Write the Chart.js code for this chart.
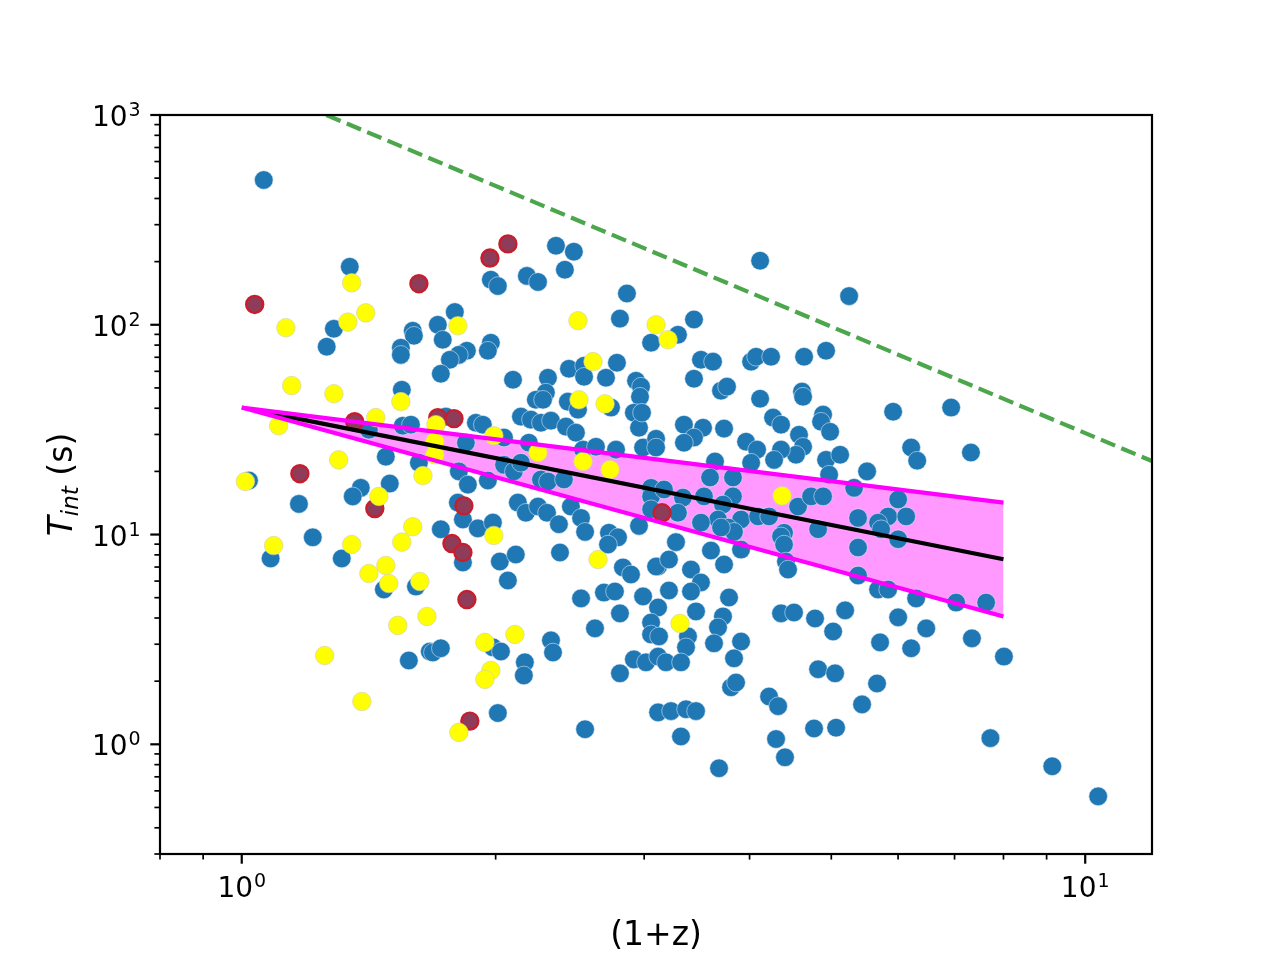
<!DOCTYPE html>
<html>
<head>
<meta charset="utf-8">
<script src="https://cdn.jsdelivr.net/npm/chart.js@4.4.1/dist/chart.umd.min.js"></script>
<style>
  html, body { margin: 0; padding: 0; background: #fff; }
  #wrap { width: 1280px; height: 960px; position: relative; }
</style>
</head>
<body>
<div id="wrap"><canvas id="myChart"></canvas></div>
<script>
// (1+z), T_int (s)
const bluePoints = [
  [1.062,490],[1.343,189],[1.286,95.7],[1.261,78.6],[1.595,93.6],[1.600,88.6],[1.544,77.7],[1.544,71.9],[1.548,49.0],[1.415,31.6],
  [1.552,33.0],[1.482,23.5],[1.622,22.0],[1.02,18.1],[1.498,17.5],[1.384,16.7],[1.354,15.2],[1.169,14.0],[1.214,9.7],[1.082,7.69],
  [1.314,7.69],[1.474,5.47],[1.609,5.65],[1.671,2.77],[1.578,2.51],
  [2.358,238],[2.476,223],[2.416,183],[1.974,164],[2.012,153],[2.178,171],[2.245,160],[2.862,141],[2.808,107],[3.057,82.1],
  [1.789,115],[1.708,100],[1.731,84.8],[1.974,82.1],[1.958,75.2],[1.849,75.2],[1.809,71.9],[1.765,68.1],[1.722,58.4],[2.443,61.7],
  [2.546,63.8],[2.546,56.5],[2.703,55.9],[2.785,65.9],[2.097,54.7],[2.307,55.9],[2.934,54.1],[2.974,50.7],[2.966,45.4],[2.294,47.5],
  [2.232,43.9],[2.276,43.9],[2.436,43.0],[2.504,39.4],[2.740,40.3],[2.917,38.1],[2.143,36.5],[2.202,35.3],[2.263,34.1],[2.326,34.9],
  [2.958,32.3],[2.423,32.7],[2.490,30.6],[1.746,36.5],[1.895,34.1],[1.931,33.4],[2.046,29.0],[1.587,33.4],[1.844,27.4],[2.190,27.4],
  [2.539,25.4],[2.630,26.2],[2.778,25.4],[2.991,26.0],[3.099,28.6],[2.046,21.5],[2.102,20.0],[1.809,20.0],[1.854,17.3],[1.958,18.1],
  [2.263,18.3],[2.307,17.9],[2.410,18.3],[2.143,22.0],[3.057,16.7],
  [1.804,14.2],[1.829,11.8],[1.905,10.7],[1.985,11.4],[1.722,10.6],[1.829,7.36],[2.023,7.44],[2.113,8.03],[2.068,6.04],[2.125,14.2],
  [2.172,12.7],[2.245,13.6],[2.301,12.7],[2.377,11.2],[2.456,13.6],[2.525,12.0],[2.553,10.3],[2.384,8.21],[2.725,10.2],[2.793,9.7],
  [2.718,8.96],[2.958,11.0],[3.057,15.2],[3.057,13.2],[2.831,6.97],[2.894,6.45],[3.116,7.04],[2.525,4.96],[2.688,5.29],[2.770,5.35],
  [2.808,4.21],[2.991,5.07],[3.116,4.49],[3.057,3.81],[3.057,3.34],[1.985,2.90],[2.029,2.77],[1.685,2.74],[1.722,2.87],[2.326,3.13],
  [2.339,2.74],[2.623,3.57],[2.166,2.46],[2.160,2.13],[2.808,2.18],[2.917,2.54],[3.015,2.46],[3.116,2.62],[2.012,1.41],[2.553,1.18],
  [3.116,1.42],
  [4.117,202],[5.249,137],[3.437,106],[3.290,89.6],[3.503,68.1],[3.620,66.7],[4.017,66.7],[4.072,70.4],[4.242,70.4],[4.642,70.4],
  [4.929,75.2],[3.437,55.3],[3.700,48.5],[3.761,50.7],[4.117,44.4],[4.616,48.0],[4.629,45.4],[5.919,38.5],[2.982,38.1],[3.344,33.4],
  [3.523,32.3],[3.437,29.0],[3.344,27.4],[3.099,26.0],[3.731,32.0],[4.265,36.1],[4.359,33.4],[4.889,37.3],[4.862,34.5],[4.984,30.9],
  [4.578,29.9],[4.629,26.2],[4.541,24.0],[3.962,27.7],[4.083,25.4],[4.017,22.0],[4.359,25.4],[4.277,22.7],[4.929,22.7],[5.122,24.0],
  [4.970,19.3],[5.513,20.0],[3.640,22.3],[3.591,18.7],[3.823,18.7],[5.321,16.7],[3.167,16.4],[3.335,15.0],[3.290,12.7],[3.532,15.2],
  [3.823,15.2],[3.720,13.9],[3.670,11.8],[3.908,11.8],[4.094,12.2],[4.219,12.2],[4.566,13.6],[4.731,15.2],[4.889,15.2],[6.001,14.7],
  [5.839,12.2],[5.681,11.4],[5.379,12.0],[4.823,10.6],[4.395,10.2],[3.503,11.4],[3.772,10.8],
  [3.272,9.2],[3.099,7.04],[3.210,7.60],[3.409,6.81],[3.600,8.39],[3.731,7.20],[3.908,8.48],[3.503,5.91],[3.409,5.35],[3.210,5.41],
  [3.782,5.01],[3.456,4.30],[3.720,4.07],[3.670,3.61],[3.630,3.03],[3.124,3.27],[3.381,3.27],[3.363,2.90],[3.184,2.46],[3.317,2.46],
  [3.908,3.09],[3.834,2.57],[3.803,1.87],[3.855,1.97],[3.228,1.44],[3.363,1.47],[3.456,1.44],[3.317,1.09],[3.680,0.769],[4.219,1.69],
  [4.324,1.52],[4.300,1.06],[4.406,0.867],[4.770,1.19],[5.066,1.20],[4.359,4.21],[4.516,4.25],[4.783,3.98],[5.025,3.45],[5.192,4.35],
  [5.712,3.06],[4.823,2.28],[5.052,2.18],[5.665,1.95],[5.438,1.55],[6.001,4.03],[4.359,9.8],[4.395,8.96],[4.418,7.44],[4.443,6.81],
  [5.379,8.67],[5.379,6.38],[5.681,5.47],[5.839,5.47],[6.001,9.5],[3.834,10.3],[3.700,10.8],
  [6.935,40.3],[6.218,26.0],[6.321,22.5],[7.32,24.6],[6.134,12.2],[5.728,10.6],[6.303,4.96],[7.031,4.74],[7.63,4.74],[6.479,3.57],
  [6.218,2.87],[7.34,3.20],[8.01,2.62],[7.72,1.07],[9.14,0.786],[10.36,0.565]
];

const redPoints = [
  [1.036,125],[1.622,157],[1.969,208],[2.068,243],[1.361,34.5],[1.708,36.1],[1.785,35.7],[1.172,19.5],
  [1.438,13.3],[1.834,13.7],[1.775,9.06],[1.829,8.21],[1.849,4.90],[1.864,1.29],[3.150,12.7]
];

const yellowPoints = [
  [1.350,158.5],[1.128,96.8],[1.336,103],[1.403,114],[1.146,51.3],[1.286,46.9],[1.544,43.0],[1.442,36.1],[1.106,33.0],[1.303,22.7],
  [1.640,19.1],[1.01,17.9],[1.454,15.2],[1.091,8.86],[1.350,8.96],[1.595,10.9],[1.548,9.2],[1.482,7.12],[1.415,6.52],[1.494,5.84],
  [1.626,5.97],[1.658,4.07],[1.531,3.69],[1.254,2.65],[1.388,1.60],[2.504,104.5],[3.099,100],[3.202,84.8],[1.804,98.9],[2.609,66.7],
  [2.511,43.9],[2.696,42.0],[1.699,33.4],[1.990,29.6],[1.694,27.7],[1.694,24.0],[2.245,24.6],[2.539,22.3],[2.733,20.4],[1.990,9.9],
  [2.645,7.60],[2.108,3.34],[1.942,3.06],[1.974,2.25],[1.942,2.04],[1.809,1.14],[4.371,15.3],[3.308,3.77]
];

// fitted relation and its spread
const fitX = [1.08, 8.0];
const fitY = [37.9, 7.62];
const bandX = [1.0, 8.0];
const upperY = [40.3, 14.2];
const lowerY = [40.3, 4.07];

// dashed limit line
const limitX = [1.26, 12];
const limitY = [1000, 22.4];

const xTickExps = [0, 1];
const yTickExps = [0, 1, 2, 3];

const FONT = '"DejaVu Sans", sans-serif';

function toXY(xs, ys) {
  return xs.map((x, i) => ({ x, y: ys[i] }));
}

function pairs(list) {
  return list.map(([x, y]) => ({ x, y }));
}

function powLabel(ctx, exp, x, base, anchor) {
  ctx.font = `28px ${FONT}`;
  const w1 = ctx.measureText('10').width;
  ctx.font = `19px ${FONT}`;
  const w2 = ctx.measureText(String(exp)).width;
  const left = anchor === 'center' ? x - (w1 + w2 + 1) / 2 : x - (w1 + w2 + 1);
  ctx.font = `28px ${FONT}`;
  ctx.fillText('10', left, base);
  ctx.font = `19px ${FONT}`;
  ctx.fillText(String(exp), left + w1 + 1, base - 10);
}

const axesDecor = {
  id: 'axesDecor',
  afterDraw(chart) {
    const { ctx, chartArea: a } = chart;
    const xs = chart.scales.x;
    const ys = chart.scales.y;
    ctx.save();
    ctx.strokeStyle = '#000';
    ctx.fillStyle = '#000';
    ctx.textAlign = 'left';
    ctx.textBaseline = 'alphabetic';

    // ticks, long on powers of ten
    for (let e = -1; e <= 3; e++) {
      for (let m = 1; m <= 9; m++) {
        const v = m * Math.pow(10, e);
        const len = m === 1 ? 9.7 : 5.6;
        ctx.lineWidth = m === 1 ? 2.2 : 1.7;
        if (v >= xs.min && v <= xs.max) {
          const px = xs.getPixelForValue(v);
          ctx.beginPath();
          ctx.moveTo(px, a.bottom);
          ctx.lineTo(px, a.bottom + len);
          ctx.stroke();
        }
        if (v >= ys.min && v <= ys.max) {
          const py = ys.getPixelForValue(v);
          ctx.beginPath();
          ctx.moveTo(a.left, py);
          ctx.lineTo(a.left - len, py);
          ctx.stroke();
        }
      }
    }

    // frame
    ctx.lineWidth = 2.2;
    ctx.strokeRect(a.left, a.top, a.right - a.left, a.bottom - a.top);

    // tick labels
    xTickExps.forEach(e => {
      powLabel(ctx, e, xs.getPixelForValue(Math.pow(10, e)), a.bottom + 43, 'center');
    });
    yTickExps.forEach(e => {
      powLabel(ctx, e, a.left - 19.4, ys.getPixelForValue(Math.pow(10, e)) + 11, 'right');
    });

    // x title
    ctx.font = `33px ${FONT}`;
    ctx.textAlign = 'center';
    ctx.fillText('(1+z)', (a.left + a.right) / 2, 945);

    // y title: T_int (s)
    ctx.textAlign = 'left';
    ctx.translate(72, (a.top + a.bottom) / 2);
    ctx.rotate(-Math.PI / 2);
    ctx.font = `italic 33px ${FONT}`;
    const wT = ctx.measureText('T').width;
    ctx.font = `italic 23px ${FONT}`;
    const wS = ctx.measureText('int').width;
    ctx.font = `33px ${FONT}`;
    const wR = ctx.measureText(' (s)').width;
    const x0 = -(wT + wS + wR) / 2;
    ctx.font = `italic 33px ${FONT}`;
    ctx.fillText('T', x0, 0);
    ctx.font = `italic 23px ${FONT}`;
    ctx.fillText('int', x0 + wT, 6);
    ctx.font = `33px ${FONT}`;
    ctx.fillText(' (s)', x0 + wT + wS, 0);
    ctx.restore();
  }
};

const data = {
  datasets: [
    {
      type: 'line', label: 'upper', data: toXY(bandX, upperY),
      borderColor: '#ff00ff', borderWidth: 4.2, pointRadius: 0,
      fill: '+1', backgroundColor: 'rgba(255,0,255,0.4)', order: 0
    },
    {
      type: 'line', label: 'lower', data: toXY(bandX, lowerY),
      borderColor: '#ff00ff', borderWidth: 4.2, pointRadius: 0, fill: false, order: 0
    },
    {
      type: 'line', label: 'fit', data: toXY(fitX, fitY),
      borderColor: '#000', borderWidth: 4.2, pointRadius: 0, fill: false, order: 0
    },
    {
      type: 'line', label: 'limit', data: toXY(limitX, limitY),
      borderColor: 'rgba(0,128,0,0.7)', borderWidth: 4.2, borderDash: [15.4, 6.7],
      pointRadius: 0, fill: false, order: 0
    },
    {
      label: 'yellow', data: pairs(yellowPoints),
      backgroundColor: '#ffff00', borderColor: 'rgba(210,210,170,0.8)', borderWidth: 0.8,
      pointRadius: 9.3, pointHoverRadius: 9.3, order: 1
    },
    {
      label: 'red', data: pairs(redPoints),
      backgroundColor: 'rgb(143,60,90)', borderColor: 'rgb(199,30,45)', borderWidth: 2.4,
      pointRadius: 8.5, pointHoverRadius: 8.5, order: 2
    },
    {
      label: 'blue', data: pairs(bluePoints),
      backgroundColor: '#1f77b4', borderColor: 'rgba(225,235,245,0.7)', borderWidth: 0.8,
      pointRadius: 9.3, pointHoverRadius: 9.3, order: 3
    }
  ]
};

const ctx = document.getElementById('myChart');
new Chart(ctx, {
  type: 'scatter',
  data,
  options: {
    responsive: true,
    maintainAspectRatio: false,
    devicePixelRatio: 1,
    animation: false,
    events: [],
    layout: { padding: { left: 0, top: 115, right: 128, bottom: 0 } },
    plugins: {
      legend: { display: false },
      tooltip: { enabled: false },
      filler: { drawTime: 'beforeDatasetsDraw' }
    },
    scales: {
      x: {
        type: 'logarithmic', min: 0.8, max: 12,
        ticks: { display: false }, grid: { display: false }, border: { display: false },
        afterFit(scale) { scale.height = 106; }
      },
      y: {
        type: 'logarithmic', min: 0.3, max: 1000,
        ticks: { display: false }, grid: { display: false }, border: { display: false },
        afterFit(scale) { scale.width = 160; }
      }
    }
  },
  plugins: [axesDecor]
});
</script>
</body>
</html>
